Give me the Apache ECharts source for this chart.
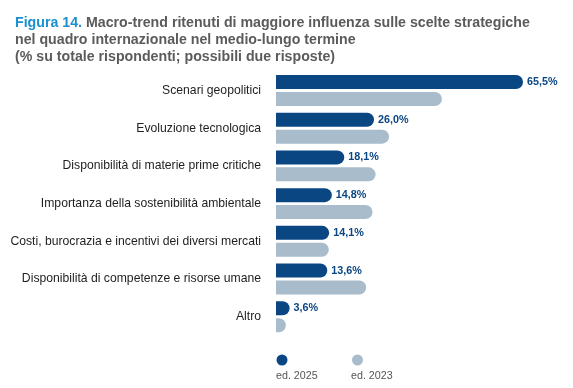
<!DOCTYPE html>
<html><head><meta charset="utf-8">
<script src="https://cdn.jsdelivr.net/npm/echarts@6/dist/echarts.min.js"></script>
<style>html,body{margin:0;padding:0;background:#fff}#c{width:573px;height:388px}</style>
</head><body><div id="c"></div>
<script>
const categories = [
  "Scenari geopolitici",
  "Evoluzione tecnologica",
  "Disponibilità di materie prime critiche",
  "Importanza della sostenibilità ambientale",
  "Costi, burocrazia e incentivi dei diversi mercati",
  "Disponibilità di competenze e risorse umane",
  "Altro"
];
const ed2025 = [65.5, 26.0, 18.1, 14.8, 14.1, 13.6, 3.6];
const ed2023 = [44.0, 30.0, 26.4, 25.6, 14.0, 23.9, 2.6];
const seriesNames = ["ed. 2025", "ed. 2023"];

const DARK = '#0a4682', LIGHT = '#a8bccb';
const FONT = 'Liberation Sans, Arial, sans-serif';
const chart = echarts.init(document.getElementById('c'));
chart.setOption({
  animation: false,
  textStyle: { fontFamily: FONT },
  title: {
    left: 10, top: 10,
    text: '{b|Figura 14.} Macro-trend ritenuti di maggiore influenza sulle scelte strategiche\nnel quadro internazionale nel medio-lungo termine\n(% su totale rispondenti; possibili due risposte)',
    textStyle: {
      fontSize: 14.2, fontWeight: 'bold', color: '#5b5b5b', lineHeight: 17,
      rich: { b: { fontSize: 14.2, fontWeight: 'bold', color: '#1b8fd0', lineHeight: 17 } }
    }
  },
  grid: { left: 276, top: 71.6, width: 264, height: 264 },
  xAxis: { type: 'value', min: 0, max: 70, show: false },
  yAxis: {
    type: 'category', data: categories, inverse: true,
    axisLine: { show: false }, axisTick: { show: false },
    axisLabel: { color: '#1e1e1e', fontSize: 12.2, margin: 15 }
  },
  series: [
    {
      name: seriesNames[0], type: 'bar', data: ed2025, barWidth: 14, barGap: '21%',
      itemStyle: { color: DARK, borderRadius: [0, 7, 7, 0] },
      label: {
        show: true, position: 'right', distance: 4, color: DARK, fontSize: 10.8, fontWeight: 'bold',
        formatter: p => p.value.toFixed(1).replace('.', ',') + '%'
      }
    },
    {
      name: seriesNames[1], type: 'bar', data: ed2023, barWidth: 14,
      itemStyle: { color: LIGHT, borderRadius: [0, 7, 7, 0] }
    }
  ],
  graphic: [
    { type: 'circle', shape: { cx: 282, cy: 360, r: 5.5 }, style: { fill: DARK } },
    { type: 'text', left: 276, top: 371, style: { text: seriesNames[0], fill: '#555', fontSize: 10.7, fontFamily: FONT } },
    { type: 'circle', shape: { cx: 357.5, cy: 360, r: 5.5 }, style: { fill: LIGHT } },
    { type: 'text', left: 351, top: 371, style: { text: seriesNames[1], fill: '#555', fontSize: 10.7, fontFamily: FONT } }
  ]
});
</script></body></html>
